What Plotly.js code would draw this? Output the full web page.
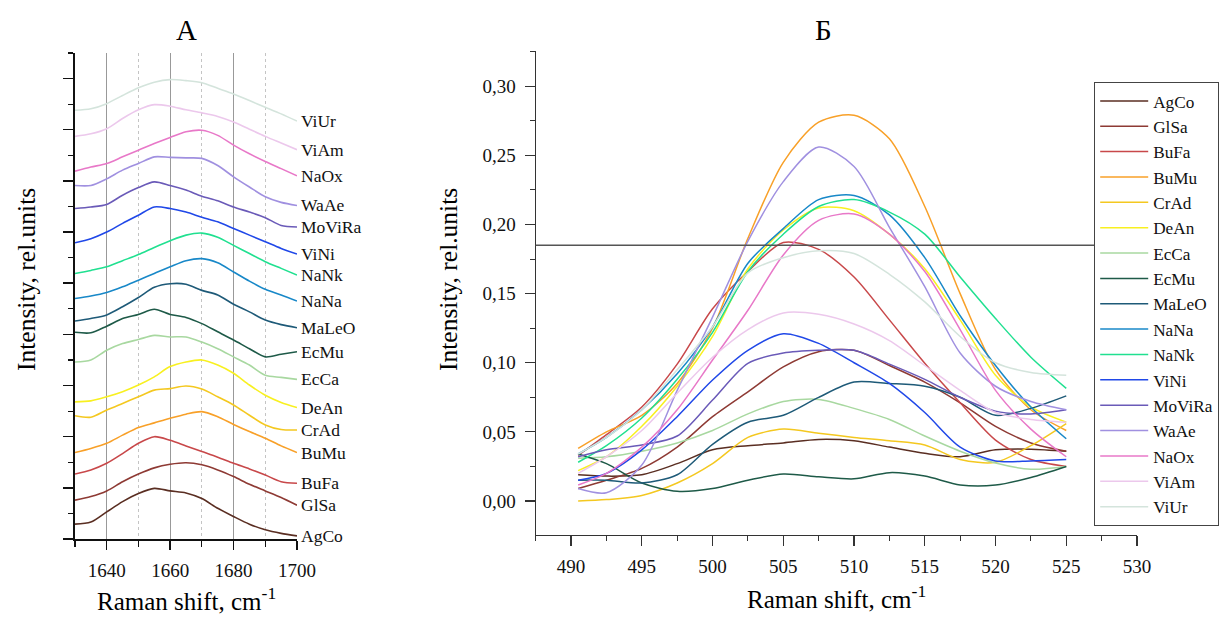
<!DOCTYPE html>
<html>
<head>
<meta charset="utf-8">
<script src="https://cdn.plot.ly/plotly-3.0.1.min.js"></script>
<style>html,body{margin:0;padding:0;background:#fff;}#chart{width:1222px;height:617px;}</style>
</head>
<body>
<div id="chart"></div>
<script>
// ---------- data ----------
const names = ["AgCo","GlSa","BuFa","BuMu","CrAd","DeAn","EcCa","EcMu","MaLeO","NaNa","NaNk","ViNi","MoViRa","WaAe","NaOx","ViAm","ViUr"];
const colors = ["#5a2e22","#8e3a34","#c8484a","#f8a028","#f4c820","#f8f020","#a8d8a0","#1e5a48","#1e5a78","#1888c8","#20e090","#2048e8","#6a5ab8","#a090e0","#e878c8","#ecc8ec","#d4e4dc"];

// Panel A (stacked spectra, arbitrary units)
const xA = [1630,1635,1640,1645,1650,1655,1660,1665,1670,1675,1680,1685,1690,1695,1700];
const aAgCo   = [0.29,0.33,0.53,0.73,0.89,0.99,0.94,0.90,0.79,0.60,0.44,0.29,0.18,0.11,0.06];
const aGlSa   = [0.76,0.83,0.94,1.12,1.27,1.39,1.46,1.49,1.45,1.35,1.22,1.07,0.94,0.81,0.66];
const aBuFa   = [1.27,1.35,1.48,1.67,1.87,2.00,1.93,1.82,1.71,1.60,1.48,1.37,1.25,1.12,1.09];
const aBuMu   = [1.69,1.77,1.87,2.03,2.18,2.27,2.36,2.44,2.49,2.39,2.24,2.10,1.97,1.82,1.69];
const aCrAd   = [2.41,2.38,2.52,2.65,2.78,2.91,2.94,2.99,2.93,2.78,2.62,2.42,2.23,2.14,2.13];
const aDeAn   = [2.68,2.70,2.78,2.88,3.01,3.17,3.37,3.46,3.50,3.40,3.24,3.01,2.81,2.67,2.57];
const aEcCa   = [3.46,3.50,3.69,3.82,3.90,3.98,3.95,3.95,3.85,3.72,3.56,3.40,3.20,3.16,3.12];
const aEcMu   = [4.04,4.03,4.16,4.31,4.39,4.49,4.39,4.33,4.21,4.05,3.89,3.72,3.56,3.61,3.66];
const aMaLeO  = [4.26,4.31,4.38,4.54,4.72,4.92,4.99,4.98,4.86,4.77,4.59,4.44,4.28,4.19,4.13];
const aNaNa   = [4.70,4.75,4.82,4.93,5.06,5.19,5.32,5.44,5.48,5.40,5.22,5.04,4.88,4.77,4.65];
const aNaNk   = [5.19,5.25,5.32,5.44,5.56,5.70,5.83,5.94,5.98,5.90,5.74,5.58,5.42,5.29,5.16];
const aViNi   = [5.79,5.87,6.00,6.17,6.33,6.49,6.46,6.39,6.29,6.20,6.07,5.94,5.81,5.68,5.57];
const aMoViRa = [6.46,6.49,6.54,6.72,6.87,6.98,6.91,6.82,6.70,6.61,6.49,6.39,6.28,6.13,6.10];
const aWaAe   = [6.91,6.91,7.04,7.21,7.34,7.47,7.46,7.45,7.44,7.30,7.08,6.88,6.69,6.58,6.52];
const aNaOx   = [7.19,7.27,7.34,7.47,7.60,7.73,7.85,7.96,7.99,7.89,7.70,7.53,7.38,7.24,7.10];
const aViAm   = [7.87,7.92,8.02,8.22,8.39,8.49,8.46,8.39,8.33,8.26,8.15,8.01,7.87,7.74,7.61];
const aViUr   = [8.38,8.41,8.51,8.67,8.82,8.93,8.98,8.96,8.92,8.81,8.70,8.57,8.44,8.31,8.17];

// Panel B (intensity, rel. units)
const xB = [490.5,492.5,495,497.5,500,502.5,505,507.5,510,512.5,515,517.5,520,522.5,525];
const bAgCo   = [0.019,0.018,0.019,0.027,0.037,0.040,0.042,0.0445,0.0435,0.039,0.0345,0.032,0.037,0.0375,0.036];
const bGlSa   = [0.009,0.015,0.0236,0.039,0.061,0.079,0.097,0.108,0.109,0.098,0.086,0.071,0.054,0.042,0.036];
const bBuFa   = [0.033,0.048,0.068,0.099,0.139,0.166,0.187,0.182,0.162,0.131,0.0996,0.071,0.044,0.030,0.025];
const bBuMu   = [0.038,0.050,0.062,0.085,0.125,0.190,0.245,0.274,0.279,0.262,0.213,0.150,0.095,0.066,0.051];
const bCrAd   = [0.000,0.001,0.004,0.013,0.027,0.046,0.052,0.049,0.046,0.0436,0.0405,0.030,0.028,0.040,0.056];
const bDeAn   = [0.022,0.032,0.054,0.083,0.119,0.168,0.196,0.212,0.210,0.193,0.168,0.131,0.091,0.068,0.057];
const bEcCa   = [0.031,0.032,0.036,0.042,0.051,0.063,0.072,0.0735,0.067,0.059,0.047,0.036,0.0275,0.023,0.025];
const bEcMu   = [0.034,0.027,0.013,0.007,0.009,0.015,0.0195,0.0175,0.016,0.0205,0.018,0.0116,0.0115,0.017,0.025];
const bMaLeO  = [0.015,0.015,0.013,0.019,0.041,0.057,0.062,0.075,0.086,0.085,0.083,0.075,0.062,0.067,0.076];
const bNaNa   = [0.034,0.046,0.066,0.092,0.126,0.172,0.197,0.218,0.221,0.207,0.176,0.134,0.098,0.068,0.045];
const bNaNk   = [0.028,0.040,0.060,0.088,0.122,0.166,0.193,0.213,0.218,0.209,0.193,0.162,0.132,0.104,0.0815];
const bViNi   = [0.015,0.020,0.037,0.061,0.0875,0.109,0.121,0.114,0.100,0.085,0.064,0.039,0.029,0.029,0.030];
const bMoViRa = [0.032,0.037,0.0405,0.047,0.073,0.0996,0.107,0.109,0.109,0.099,0.088,0.075,0.065,0.063,0.066];
const bWaAe   = [0.009,0.006,0.026,0.080,0.133,0.188,0.231,0.256,0.242,0.198,0.155,0.107,0.083,0.072,0.066];
const bNaOx   = [0.0116,0.020,0.039,0.066,0.102,0.138,0.178,0.203,0.2076,0.193,0.166,0.124,0.080,0.052,0.032];
const bViAm   = [0.020,0.032,0.051,0.078,0.104,0.124,0.136,0.135,0.128,0.116,0.098,0.080,0.064,0.059,0.057];
const bViUr   = [0.034,0.046,0.066,0.095,0.126,0.165,0.176,0.181,0.179,0.164,0.144,0.119,0.100,0.093,0.091];

const thresholdB = 0.185;

const seriesA = [aAgCo,aGlSa,aBuFa,aBuMu,aCrAd,aDeAn,aEcCa,aEcMu,aMaLeO,aNaNa,aNaNk,aViNi,aMoViRa,aWaAe,aNaOx,aViAm,aViUr];
const seriesB = [bAgCo,bGlSa,bBuFa,bBuMu,bCrAd,bDeAn,bEcCa,bEcMu,bMaLeO,bNaNa,bNaNk,bViNi,bMoViRa,bWaAe,bNaOx,bViAm,bViUr];

// ---------- traces ----------
const FONT = "Liberation Serif, Times New Roman, serif";
const traces = [];
names.forEach((n,i)=>{
  traces.push({x:xA, y:seriesA[i], xaxis:'x', yaxis:'y', type:'scatter', mode:'lines',
    line:{color:colors[i], width:1.6, shape:'spline', smoothing:0.8}, showlegend:false, name:n, hoverinfo:'skip'});
});
names.forEach((n,i)=>{
  traces.push({x:xB, y:seriesB[i], xaxis:'x2', yaxis:'y2', type:'scatter', mode:'lines',
    line:{color:colors[i], width:1.5, shape:'spline', smoothing:0.8}, showlegend:true, name:n});
});

// curve-end labels in panel A
const annotations = names.map((n,i)=>({
  x: xA[xA.length-1], y: seriesA[i][seriesA[i].length-1], xref:'x', yref:'y',
  text:n, showarrow:false, xanchor:'left', yanchor:'middle', xshift:2,
  font:{family:FONT, size:17.5, color:'#111'}
}));
annotations.push(
  {text:'А', x:186/1222, y:1-30/617, xref:'paper', yref:'paper', showarrow:false, xanchor:'center', yanchor:'middle', font:{family:FONT,size:29,color:'#000'}},
  {text:'Б', x:823/1222, y:1-30/617, xref:'paper', yref:'paper', showarrow:false, xanchor:'center', yanchor:'middle', font:{family:FONT,size:29,color:'#000'}},
  {text:'Intensity, rel.units', x:26/1222, y:1-280/617, xref:'paper', yref:'paper', showarrow:false, textangle:-90, xanchor:'center', yanchor:'middle', font:{family:FONT,size:25.5,color:'#000'}},
  {text:'Intensity, rel.units', x:448/1222, y:1-280/617, xref:'paper', yref:'paper', showarrow:false, textangle:-90, xanchor:'center', yanchor:'middle', font:{family:FONT,size:25.5,color:'#000'}},
  {text:'Raman shift, cm<sup>-1</sup>', x:186/1222, y:1-599/617, xref:'paper', yref:'paper', showarrow:false, xanchor:'center', yanchor:'middle', font:{family:FONT,size:25,color:'#000'}},
  {text:'Raman shift, cm<sup>-1</sup>', x:836/1222, y:1-597/617, xref:'paper', yref:'paper', showarrow:false, xanchor:'center', yanchor:'middle', font:{family:FONT,size:25,color:'#000'}}
);

const layout = {
  width:1222, height:617,
  margin:{l:0,r:0,t:0,b:0, autoexpand:false},
  paper_bgcolor:'#fff', plot_bgcolor:'rgba(0,0,0,0)',
  separators:', ',
  font:{family:FONT, size:19, color:'#111'},
  showlegend:true,
  xaxis:{domain:[75/1222, 297/1222], range:[1630,1700], tickmode:'linear', tick0:1640, dtick:20,
    showline:true, linecolor:'#111', linewidth:2, ticks:'outside', ticklen:9, tickwidth:1.5, tickcolor:'#111',
    showgrid:true, gridcolor:'#999', gridwidth:1, zeroline:false,
    minor:{dtick:10, tick0:1630, ticks:'outside', ticklen:6, tickwidth:1.2, tickcolor:'#111', showgrid:true, gridcolor:'#c4c4c4', gridwidth:1, griddash:'3px,3px'},
    tickfont:{family:FONT,size:19,color:'#111'}, ticklabelstandoff:4, fixedrange:true, anchor:'y'},
  yaxis:{domain:[78/617, 564/617], range:[0,9.5], tickmode:'linear', tick0:0, dtick:1,
    showline:true, linecolor:'#111', linewidth:2, ticks:'outside', ticklen:10, tickwidth:1.5, tickcolor:'#111',
    showticklabels:false, showgrid:false, zeroline:false,
    minor:{dtick:0.5, ticks:'outside', ticklen:5, tickwidth:1.2, tickcolor:'#111', showgrid:false},
    fixedrange:true, anchor:'x'},
  xaxis2:{domain:[535.7/1222, 1137/1222], range:[487.5,530], tickmode:'linear', tick0:490, dtick:5,
    showline:true, linecolor:'#333', linewidth:1.2, ticks:'outside', ticklen:10, tickwidth:1.2, tickcolor:'#333',
    showgrid:false, zeroline:false,
    minor:{dtick:2.5, tick0:487.5, ticks:'outside', ticklen:5, tickwidth:1, tickcolor:'#333', showgrid:false},
    tickfont:{family:FONT,size:19,color:'#111'}, ticklabelstandoff:4, fixedrange:true, anchor:'y2'},
  yaxis2:{domain:[82/617, 566/617], range:[-0.0246,0.3255], tickmode:'linear', tick0:0, dtick:0.05, tickformat:'.2f',
    showline:true, linecolor:'#333', linewidth:1.2, ticks:'outside', ticklen:10, tickwidth:1.2, tickcolor:'#333',
    showgrid:false, zeroline:false,
    minor:{dtick:0.025, tick0:0, ticks:'outside', ticklen:5, tickwidth:1, tickcolor:'#333', showgrid:false},
    tickfont:{family:FONT,size:19,color:'#111'}, ticklabelstandoff:5, fixedrange:true, anchor:'x2'},
  legend:{x:1094/1222, y:1-82/617, xanchor:'left', yanchor:'top', bgcolor:'#fff', bordercolor:'#444', borderwidth:1.2,
    font:{family:FONT, size:17.2, color:'#111'}, tracegroupgap:0, traceorder:'normal', itemwidth:48, entrywidth:200},
  shapes:[{type:'line', xref:'paper', yref:'y2', x0:535.7/1222, x1:1094/1222, y0:thresholdB, y1:thresholdB,
    line:{color:'#555', width:1.3}}],
  annotations:annotations
};

Plotly.newPlot('chart', traces, layout, {displayModeBar:false, staticPlot:true});
</script>
</body>
</html>
